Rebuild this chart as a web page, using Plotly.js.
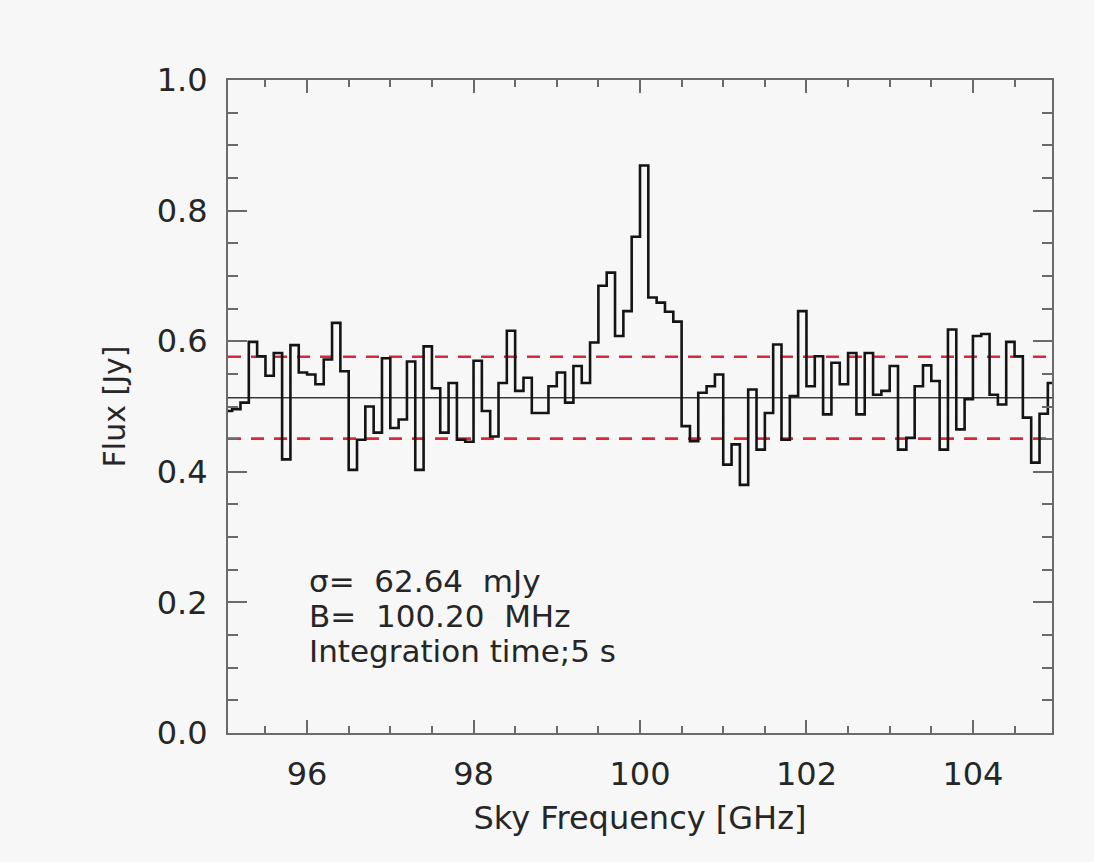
<!DOCTYPE html>
<html><head><meta charset="utf-8">
<script src="https://cdn.plot.ly/plotly-3.0.1.min.js"></script>
<style>html,body{margin:0;padding:0;background:#f7f7f7;} #chart{width:1094px;height:862px;}</style>
</head><body><div id="chart"></div>
<script>
// channel grid (GHz): first channel centre and channel spacing
const channelStartGHz = 95.05;
const channelWidthGHz = 0.1;
// flux per channel [Jy]
const fluxJy = [
0.493,0.496,0.506,0.599,0.577,0.547,0.582,0.419,0.594,0.552,
0.549,0.534,0.572,0.628,0.554,0.403,0.449,0.500,0.460,0.574,
0.467,0.480,0.569,0.403,0.592,0.528,0.460,0.536,0.449,0.446,
0.570,0.493,0.454,0.536,0.616,0.524,0.544,0.490,0.490,0.531,
0.552,0.506,0.562,0.536,0.598,0.685,0.705,0.608,0.646,0.760,
0.869,0.667,0.659,0.645,0.630,0.470,0.447,0.521,0.531,0.549,
0.411,0.442,0.380,0.526,0.434,0.490,0.595,0.449,0.516,0.646,
0.531,0.577,0.488,0.567,0.534,0.582,0.488,0.582,0.518,0.524,
0.562,0.434,0.452,0.531,0.563,0.539,0.434,0.618,0.465,0.511,
0.608,0.611,0.518,0.503,0.599,0.577,0.483,0.414,0.489,0.536
];
const meanFluxJy = 0.5135;
const sigmaJy = 0.06264;
const xRangeGHz = [95.05, 104.95];
const yRangeJy = [0, 1.0];
const xTickVals = [96, 98, 100, 102, 104];
const yTickVals = [0, 0.2, 0.4, 0.6, 0.8, 1.0];
const xTitle = 'Sky Frequency [GHz]';
const yTitle = 'Flux [Jy]';
const infoLines = ['σ=\u00a0 62.64\u00a0 mJy', 'B=\u00a0 100.20\u00a0 MHz', 'Integration time;5 s'];
const infoLineY = [0.2331, 0.1794, 0.1258];

const freqGHz = fluxJy.map((_, i) => +(channelStartGHz + i * channelWidthGHz).toFixed(3));

const FONT = 'DejaVu Sans, sans-serif';
const TXT = '#262626';
const AX = '#6a6a6a';

const traces = [
  {x: xRangeGHz, y: [meanFluxJy + sigmaJy, meanFluxJy + sigmaJy], mode: 'lines',
   line: {color: '#d8283c', width: 2.6, dash: '13px,10px'}, hoverinfo: 'skip'},
  {x: xRangeGHz, y: [meanFluxJy - sigmaJy, meanFluxJy - sigmaJy], mode: 'lines',
   line: {color: '#d8283c', width: 2.6, dash: '13px,10px'}, hoverinfo: 'skip'},
  {x: xRangeGHz, y: [meanFluxJy, meanFluxJy], mode: 'lines',
   line: {color: '#3a3a3a', width: 1.6}, hoverinfo: 'skip'},
  {x: freqGHz, y: fluxJy, mode: 'lines', line: {shape: 'hvh', color: '#141414', width: 2.6}}
];

const layout = {
  width: 1094, height: 862,
  paper_bgcolor: '#f7f7f7', plot_bgcolor: '#f7f7f7',
  showlegend: false,
  margin: {l: 228, r: 42, t: 80, b: 129, pad: 0},
  font: {family: FONT, color: TXT, size: 32},
  xaxis: {
    range: xRangeGHz, tickvals: xTickVals, ticktext: xTickVals.map(String),
    ticks: 'inside', ticklen: 13, tickwidth: 2, tickcolor: AX,
    minor: {dtick: 0.5, tick0: 96, ticks: 'inside', ticklen: 7, tickwidth: 2, tickcolor: AX},
    showline: true, linecolor: AX, linewidth: 2, mirror: 'allticks',
    showgrid: false, zeroline: false, ticklabelstandoff: 12,
    tickfont: {family: FONT, size: 32, color: TXT},
    title: {text: xTitle, font: {family: FONT, size: 32, color: TXT}, standoff: 14}
  },
  yaxis: {
    range: yRangeJy, tickvals: yTickVals, ticktext: yTickVals.map(v => v.toFixed(1)),
    ticks: 'inside', ticklen: 19, tickwidth: 2, tickcolor: AX,
    minor: {dtick: 0.05, tick0: 0, ticks: 'inside', ticklen: 10, tickwidth: 2, tickcolor: AX},
    showline: true, linecolor: AX, linewidth: 2, mirror: 'allticks',
    showgrid: false, zeroline: false, ticklabelstandoff: 12,
    tickfont: {family: FONT, size: 32, color: TXT},
    title: {text: yTitle, font: {family: FONT, size: 30, color: TXT}, standoff: 22}
  },
  annotations: infoLines.map((t, i) => ({
    text: t, xref: 'paper', yref: 'y', x: 0.0959, y: infoLineY[i],
    xanchor: 'left', yanchor: 'middle', showarrow: false,
    font: {family: FONT, size: 31, color: TXT}
  }))
};

Plotly.newPlot('chart', traces, layout, {displayModeBar: false, staticPlot: true});
</script>
</body></html>
